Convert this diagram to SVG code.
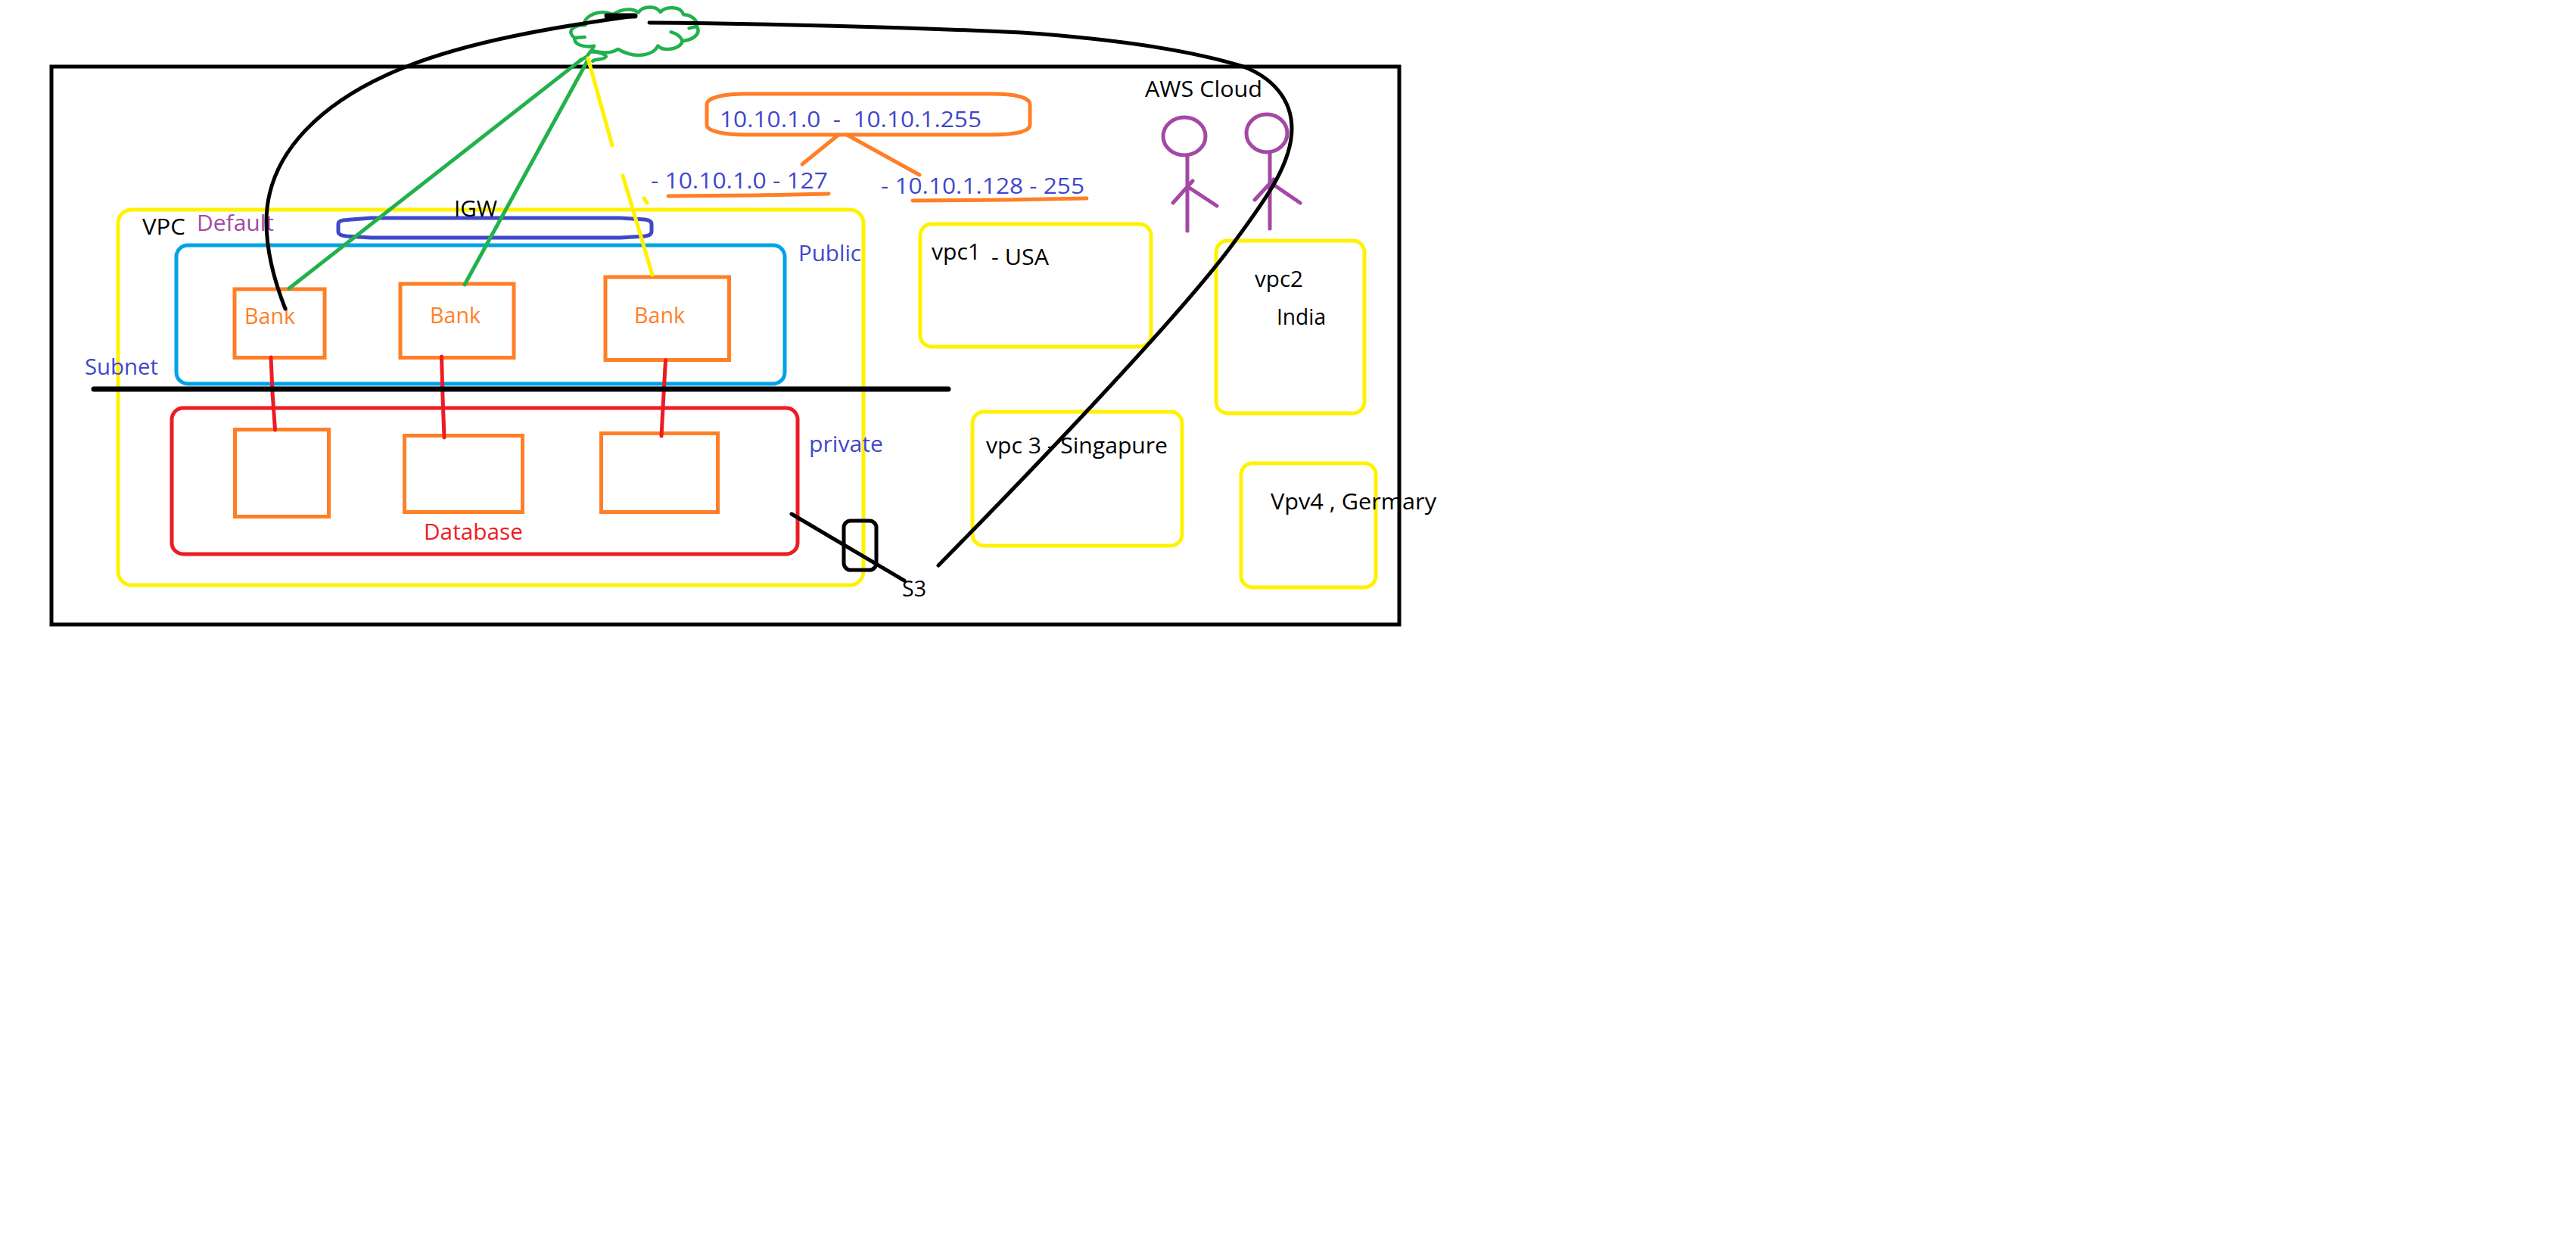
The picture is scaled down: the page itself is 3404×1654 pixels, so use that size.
<svg xmlns="http://www.w3.org/2000/svg" width="3404" height="1654" viewBox="0 0 3404 1654">
<style>
.box{fill:none;stroke-width:5}
.o{stroke:#ff7f27}.y{stroke:#fff200}.k{stroke:#000}.r{stroke:#ed1c24}.b{stroke:#00a2e8}.i{stroke:#3f48cc}.p{stroke:#a349a4}.g{stroke:#22b14c}
.ln{fill:none;stroke-width:5;stroke-linecap:round;stroke-linejoin:round}
text{font-family:"Open Sans","Noto Sans","Liberation Sans",sans-serif;font-size:29px}
.tk{fill:#000}.tb{fill:#3f48cc}.to{fill:#ff7f27}.tr{fill:#ed1c24}.tp{fill:#a349a4}
</style>
<rect width="3404" height="1654" fill="#fff"/>
<g id="aws-cloud-boundary">
<rect class="box k" x="68" y="88" width="1781" height="737"/>
<text class="tk" x="1513" y="128" textLength="155" lengthAdjust="spacingAndGlyphs">AWS Cloud</text>
</g>
<g id="vpc-default">
<rect class="box y" x="156" y="277" width="985" height="496" rx="18"/>
<text class="tk" x="188" y="310" textLength="57" lengthAdjust="spacingAndGlyphs">VPC</text>
<text class="tp" x="260" y="305" textLength="102" lengthAdjust="spacingAndGlyphs">Default</text>
</g>
<g id="igw">
<path class="box i" d="M447 296Q447 291 458 290.500L490 288H820L852 290Q861 291 861 296V306Q861 311 852 312L820 314H490L458 312Q447 311 447 306Z"/>
<text class="tk" x="600" y="286" textLength="57" lengthAdjust="spacingAndGlyphs">IGW</text>
</g>
<g id="public-subnet">
<rect class="box b" x="233" y="324" width="804" height="183" rx="15"/>
<text class="tb" x="1055" y="345" textLength="83" lengthAdjust="spacingAndGlyphs">Public</text>
</g>
<g id="private-subnet">
<rect class="box r" x="227" y="539" width="827" height="193" rx="15"/>
<text class="tb" x="1069" y="597" textLength="98" lengthAdjust="spacingAndGlyphs">private</text>
<text class="tr" x="560" y="713" textLength="131" lengthAdjust="spacingAndGlyphs">Database</text>
</g>
<g id="subnet-label"><text class="tb" x="112" y="495" textLength="97" lengthAdjust="spacingAndGlyphs">Subnet</text></g>
<g id="bank-1"><rect class="box o" x="310" y="382" width="119" height="90.500"/><text class="to" x="323" y="428" textLength="67" lengthAdjust="spacingAndGlyphs">Bank</text></g>
<g id="bank-2"><rect class="box o" x="529" y="375" width="150" height="97.500"/><text class="to" x="568" y="427" textLength="67" lengthAdjust="spacingAndGlyphs">Bank</text></g>
<g id="bank-3"><rect class="box o" x="800" y="366" width="163.500" height="109.500"/><text class="to" x="838" y="427" textLength="67" lengthAdjust="spacingAndGlyphs">Bank</text></g>
<g id="db-1"><rect class="box o" x="310.500" y="567.500" width="124" height="115"/></g>
<g id="db-2"><rect class="box o" x="534.500" y="575.500" width="156" height="101"/></g>
<g id="db-3"><rect class="box o" x="794.500" y="572.500" width="154" height="104"/></g>
<g id="cidr">
<path class="box o" d="M934 138C934 128 960 124 985 124H1310C1340 124 1361 128 1361 138V165C1361 174 1340 178 1310 178H985C960 178 934 174 934 165Z"/>
<text class="tb" x="951" y="168" textLength="346" lengthAdjust="spacingAndGlyphs" xml:space="preserve">10.10.1.0  -  10.10.1.255</text>
</g>
<g id="cidr-low">
<text class="tb" x="860" y="249" textLength="234" lengthAdjust="spacingAndGlyphs">- 10.10.1.0 - 127</text>
<path class="ln o" d="M883 259L1000 258L1095 256"/>
</g>
<g id="cidr-high">
<text class="tb" x="1164" y="256" textLength="269" lengthAdjust="spacingAndGlyphs">- 10.10.1.128 - 255</text>
<path class="ln o" d="M1206 265L1330 264L1436 262"/>
</g>
<g id="vpc1"><rect class="box y" x="1216" y="296" width="305" height="162" rx="15"/>
<text class="tk" x="1231" y="343" textLength="65" lengthAdjust="spacingAndGlyphs">vpc1</text>
<text class="tk" x="1310" y="350" textLength="76" lengthAdjust="spacingAndGlyphs">- USA</text></g>
<g id="vpc2"><rect class="box y" x="1607" y="318" width="196" height="228" rx="15"/>
<text class="tk" x="1658" y="379" textLength="64" lengthAdjust="spacingAndGlyphs">vpc2</text>
<text class="tk" x="1687" y="429" textLength="65" lengthAdjust="spacingAndGlyphs">India</text></g>
<g id="vpc3"><rect class="box y" x="1285" y="544" width="277" height="177" rx="15"/>
<text class="tk" x="1303" y="599" textLength="240" lengthAdjust="spacingAndGlyphs">vpc 3 - Singapure</text></g>
<g id="vpc4"><rect class="box y" x="1640" y="612" width="178" height="164" rx="15"/>
<text class="tk" x="1679" y="673" textLength="219" lengthAdjust="spacingAndGlyphs">Vpv4 , Germary</text></g>
<g id="user-1">
<ellipse class="box p" cx="1565" cy="180" rx="28" ry="25"/>
<path class="ln p" d="M1569 206V305M1550 268L1576 239M1570 247L1608 272"/>
</g>
<g id="user-2">
<ellipse class="box p" cx="1674" cy="176" rx="27" ry="25"/>
<path class="ln p" d="M1678 202V302M1658 264L1683 237M1683 244L1718 268"/>
</g>
<g id="s3">
<rect class="box k" x="1115" y="688" width="43" height="65" rx="9"/>
<text class="tk" x="1192" y="788" textLength="32" lengthAdjust="spacingAndGlyphs">S3</text>
</g>
<g id="internet-cloud">
<path class="g" fill="none" stroke-linecap="round" stroke-linejoin="round" transform="translate(700 0) scale(.3333)" style="stroke-width:13.500" d="M215 100C215 60 280 35 330 58C360 35 410 30 430 50C450 22 500 22 518 48C540 22 600 25 610 58C645 60 670 85 660 105L632 112M660 102C680 125 660 155 610 162M560 127C590 135 610 155 602 172C585 195 530 205 508 182C490 220 420 235 350 195C320 215 280 210 245 200L255 182C210 190 175 175 178 150L218 147M178 150C150 130 160 100 220 100M240 205C270 205 305 215 302 225C295 238 265 232 250 242M240 205L225 225L200 240"/>
</g>
<g id="connectors">
<path class="ln g" d="M768 79L382 381"/>
<path class="ln g" d="M777 79L614 376"/>
<path class="ln y" d="M777 77L809 192"/>
<path class="ln y" d="M823 232L862 363"/>
<path class="ln y" d="M851 262L855 268"/>
<path class="ln r" d="M358 472L360 518L363.500 568"/>
<path class="ln r" d="M583.500 471L585 525L587 578"/>
<path class="ln r" d="M879.500 476L877 520L874 576"/>
<path class="ln k" style="stroke-width:7" d="M124 514H1253"/>
<path class="ln o" d="M1108 178L1060 217"/>
<path class="ln o" d="M1119 178L1215 231"/>
<path class="ln k" d="M1046 679L1195 767"/>
<path class="ln k" d="M377 408C362 370 352 330 352 293C352 200 430 130 537 88C620 55 730 36 839 21"/>
<path class="ln k" style="stroke-width:7" d="M802 21H839"/>
<path class="ln k" d="M858 30C1000 31 1200 36 1350 43C1450 50 1560 62 1643 88C1680 102 1707 130 1707 170C1707 215 1675 260 1633 317C1570 405 1380 605 1240 747"/>
</g>
</svg>
